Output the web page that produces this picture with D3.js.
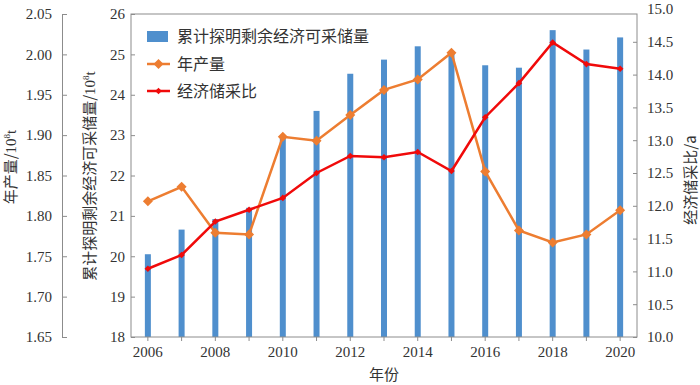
<!DOCTYPE html>
<html lang="zh">
<head>
<meta charset="UTF-8">
<title>储量与产量</title>
<script src="https://cdn.jsdelivr.net/npm/d3@7/dist/d3.min.js"></script>
<style>
    * { margin: 0; }
    body { background: #fff; }
    svg text { fill: #333; }
    .num { font-family: "Liberation Serif", "DejaVu Serif", serif; font-size: 15px; }
    .cjk { font-family: "Noto Sans CJK SC", sans-serif; font-size: 15px; }
</style>
</head>
<body>
<svg id="chart" width="700" height="385"></svg>
<script>
    // 数据
    var years = [2006, 2007, 2008, 2009, 2010, 2011, 2012, 2013, 2014, 2015, 2016, 2017, 2018, 2019, 2020];
    var reserves = [20.05, 20.66, 20.92, 21.2, 22.95, 23.6, 24.52, 24.87, 25.2, 25.02, 24.73, 24.67, 25.6, 25.12, 25.42];
    var output = [1.818, 1.836, 1.779, 1.777, 1.898, 1.893, 1.925, 1.956, 1.969, 2.002, 1.855, 1.782, 1.767, 1.777, 1.807];
    var ratio = [11.04, 11.25, 11.76, 11.94, 12.12, 12.50, 12.76, 12.74, 12.82, 12.53, 13.35, 13.87, 14.49, 14.16, 14.09];

    var outputTicks = [1.65, 1.70, 1.75, 1.80, 1.85, 1.90, 1.95, 2.00, 2.05];
    var reserveTicks = [18, 19, 20, 21, 22, 23, 24, 25, 26];
    var ratioTicks = [10, 10.5, 11, 11.5, 12, 12.5, 13, 13.5, 14, 14.5, 15];
    var yearLabels = [2006, 2008, 2010, 2012, 2014, 2016, 2018, 2020];

    // 绘图区 (注意 top 是 window 的只读属性, 不能直接用)
    var pLeft = 131, pRight = 637, pTop = 14, pBottom = 337;
    var axisGrey = '#8c8c8c';
    var blue = '#4f8fcd', orange = '#ed7d31', red = '#f00a0a';

    var svg = d3.select('#chart');

    var x = d3.scaleBand().domain(years).range([pLeft, pRight]);
    var yOut = d3.scaleLinear().domain([1.65, 2.05]).range([pBottom, pTop]);
    var yRes = d3.scaleLinear().domain([18, 26]).range([pBottom, pTop]);
    var yRat = d3.scaleLinear().domain([10, 15]).range([pBottom, 9]);
    var cx = function (d) { return x(d) + x.bandwidth() / 2; };

    // 柱子
    svg.append('g').selectAll('rect')
        .data(years)
        .enter()
        .append('rect')
        .attr('x', function (d) { return cx(d) - 3; })
        .attr('width', 6)
        .attr('y', function (d, i) { return yRes(reserves[i]); })
        .attr('height', function (d, i) { return pBottom - yRes(reserves[i]); })
        .attr('fill', blue);

    // 外框
    svg.append('rect')
        .attr('x', pLeft).attr('y', pTop)
        .attr('width', pRight - pLeft).attr('height', pBottom - pTop)
        .attr('fill', 'none').attr('stroke', axisGrey).attr('stroke-width', 1);

    function styleAxis(g) {
        g.attr('font-family', null).attr('font-size', null);
        g.selectAll('path, line').attr('stroke', axisGrey);
        g.selectAll('text').attr('class', 'num').attr('fill', '#333');
    }

    // 年产量轴 (最左)
    svg.append('g')
        .attr('transform', 'translate(62,0)')
        .call(d3.axisRight(yOut).tickValues(outputTicks).tickFormat(d3.format('.2f')).tickSize(5).tickSizeOuter(0))
        .call(styleAxis)
        .call(function (g) { g.selectAll('text').attr('x', -10).attr('text-anchor', 'end'); });

    // 储量轴
    svg.append('g')
        .attr('transform', 'translate(' + pLeft + ',0)')
        .call(d3.axisRight(yRes).tickValues(reserveTicks).tickSize(4).tickSizeOuter(0))
        .call(styleAxis)
        .call(function (g) {
            g.select('.domain').remove();
            g.selectAll('text').attr('x', -6).attr('text-anchor', 'end');
        });

    // 储采比轴
    svg.append('g')
        .attr('transform', 'translate(' + pRight + ',0)')
        .call(d3.axisLeft(yRat).tickValues(ratioTicks).tickFormat(d3.format('.1f')).tickSize(4).tickSizeOuter(0))
        .call(styleAxis)
        .call(function (g) {
            g.select('.domain').remove();
            g.selectAll('.tick').filter(function (d) { return d === 15; }).select('line').remove();
            g.selectAll('text').attr('x', 10).attr('text-anchor', 'start');
        });

    // 年份轴
    svg.append('g')
        .attr('transform', 'translate(0,' + pBottom + ')')
        .call(d3.axisBottom(x).tickSize(4).tickSizeOuter(0)
            .tickFormat(function (d) { return yearLabels.indexOf(d) >= 0 ? d : ''; }))
        .call(styleAxis)
        .call(function (g) {
            g.select('.domain').remove();
            g.selectAll('text').attr('y', 9);
        });

    // 折线
    var lineOut = d3.line().x(function (d) { return cx(d); }).y(function (d, i) { return yOut(output[i]); });
    var lineRat = d3.line().x(function (d) { return cx(d); }).y(function (d, i) { return yRat(ratio[i]); });

    svg.append('path').attr('d', lineOut(years))
        .attr('fill', 'none').attr('stroke', orange).attr('stroke-width', 2.5);
    svg.append('g').selectAll('path')
        .data(years).enter().append('path')
        .attr('d', d3.symbol().type(d3.symbolDiamond2).size(64))
        .attr('transform', function (d, i) { return 'translate(' + cx(d) + ',' + yOut(output[i]) + ')'; })
        .attr('fill', orange);

    svg.append('path').attr('d', lineRat(years))
        .attr('fill', 'none').attr('stroke', red).attr('stroke-width', 2.5);
    svg.append('g').selectAll('path')
        .data(years).enter().append('path')
        .attr('d', d3.symbol().type(d3.symbolDiamond2).size(28))
        .attr('transform', function (d, i) { return 'translate(' + cx(d) + ',' + yRat(ratio[i]) + ')'; })
        .attr('fill', red);

    // 图例
    var lg = svg.append('g');
    lg.append('rect').attr('x', 147).attr('y', 31).attr('width', 21).attr('height', 11).attr('fill', blue);
    lg.append('text').attr('class', 'cjk').attr('x', 177).attr('y', 42).style('font-size', '16px').text('累计探明剩余经济可采储量');
    lg.append('line').attr('x1', 147).attr('x2', 170).attr('y1', 64).attr('y2', 64).attr('stroke', orange).attr('stroke-width', 2.5);
    lg.append('path').attr('d', d3.symbol().type(d3.symbolDiamond2).size(64)).attr('transform', 'translate(158.5,64)').attr('fill', orange);
    lg.append('text').attr('class', 'cjk').attr('x', 177).attr('y', 70).style('font-size', '16px').text('年产量');
    lg.append('line').attr('x1', 147).attr('x2', 170).attr('y1', 91).attr('y2', 91).attr('stroke', red).attr('stroke-width', 2.5);
    lg.append('path').attr('d', d3.symbol().type(d3.symbolDiamond2).size(28)).attr('transform', 'translate(158.5,91)').attr('fill', red);
    lg.append('text').attr('class', 'cjk').attr('x', 177).attr('y', 97).style('font-size', '16px').text('经济储采比');

    // 轴标题
    function vTitle(xPos, yPos, main, sup, tail) {
        var t = svg.append('text').attr('class', 'cjk')
            .attr('text-anchor', 'middle')
            .attr('transform', 'translate(' + xPos + ',' + yPos + ') rotate(-90)');
        t.append('tspan').text(main);
        if (sup) {
            t.append('tspan').attr('class', 'num').style('font-size', '15px').text('10');
            t.append('tspan').attr('class', 'num').style('font-size', '9px').attr('dy', -6).text(sup);
            t.append('tspan').attr('class', 'num').style('font-size', '15px').attr('dy', 6).text(tail);
        }
        return t;
    }
    vTitle(16, 167, '年产量/', '8', 't');
    vTitle(95, 176, '累计探明剩余经济可采储量/', '8', 't');
    vTitle(696, 180, '经济储采比/a');

    svg.append('text').attr('class', 'cjk')
        .attr('x', (pLeft + pRight) / 2).attr('y', 380)
        .attr('text-anchor', 'middle').text('年份');
</script>
</body>
</html>
